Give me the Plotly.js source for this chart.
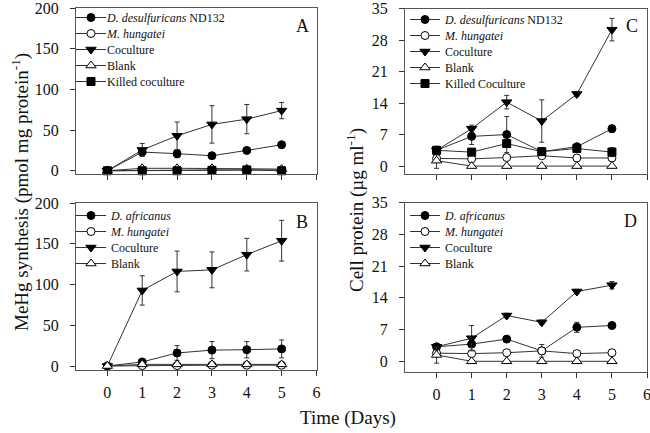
<!DOCTYPE html>
<html>
<head>
<meta charset="utf-8">
<script src="https://cdn.plot.ly/plotly-3.0.1.min.js"></script>
<style>html,body{margin:0;padding:0;background:#fff;}#chart{width:650px;height:433px;}</style>
</head>
<body>
<div id="chart"></div>
<script>
// ---- data ----
const days = [0, 1, 2, 3, 4, 5];
const xTickVals = [0, 1, 2, 3, 4, 5, 6];
const mehgTicks = [0, 50, 100, 150, 200];
const proteinTicks = [0, 7, 14, 21, 28, 35];

// Panel A: MeHg synthesis, D. desulfuricans ND132 set
const A_desulf = [0, 23, 21, 18.5, 25, 32];
const A_desulf_err = [0.5, 3, 5, 1.5, 2, 2];
const A_hung = [0, 0.5, 0.5, 1, 1, 1];
const A_hung_err = [0.3, 0.5, 0.5, 0.5, 0.5, 0.5];
const A_cocult = [0, 25.6, 43, 57, 63.5, 74];
const A_cocult_err = [0.5, 8, 17, 23, 18, 10];
const A_blank = [0, 3, 3, 3, 2.5, 2];
const A_blank_err = [0.3, 0.5, 0.5, 0.5, 0.5, 0.5];
const A_killed = [0, 0, 0, 0.5, 1, 0];
const A_killed_err = [0.3, 0.5, 0.5, 0.5, 0.5, 0.5];

// Panel B: MeHg synthesis, D. africanus set
const B_afr = [0, 5, 16, 19.5, 20, 21];
const B_afr_err = [1, 2, 9, 10.5, 10, 11];
const B_hung = [0, 0.5, 0.5, 1, 1, 1];
const B_hung_err = [0.3, 0.5, 0.5, 0.5, 0.5, 0.5];
const B_cocult = [0, 92.7, 116, 118, 136.6, 153.7];
const B_cocult_err = [1, 18, 25, 22, 20, 25];
const B_blank = [0, 2, 2, 2, 2, 2];
const B_blank_err = [0.3, 0.5, 0.5, 0.5, 0.5, 0.5];

// Panel C: cell protein, D. desulfuricans ND132 set
const C_desulf = [3.5, 6.6, 7.0, 3.2, 4.3, 8.3];
const C_desulf_err = [0.8, 1.8, 4, 0.8, 0.5, 0.8];
const C_hung = [1.7, 1.6, 1.9, 2.3, 1.8, 1.8];
const C_hung_err = [0.5, 0.5, 0.6, 0.5, 0.4, 0.4];
const C_cocult = [3.5, 8.3, 14.2, 10, 16, 30.3];
const C_cocult_err = [0.9, 0.8, 1.5, 4.7, 0.5, 2.5];
const C_blank = [1.2, 0, 0, 0, 0, 0];
const C_blank_err = [1.7, 0, 0, 0, 0, 0];
const C_killed = [3.5, 3.1, 5.0, 3.2, 3.9, 3.1];
const C_killed_err = [0.6, 0.6, 0.6, 0.6, 0.6, 1.0];

// Panel D: cell protein, D. africanus set
const D_afr = [3.2, 3.8, 4.9, 2.3, 7.5, 7.9];
const D_afr_err = [0.5, 0.5, 0.4, 0.5, 1.1, 0.7];
const D_hung = [1.8, 1.7, 1.9, 2.3, 1.7, 1.9];
const D_hung_err = [0.4, 0.4, 0.4, 1.4, 0.4, 0.4];
const D_cocult = [3.2, 5.1, 10.1, 8.6, 15.4, 16.8];
const D_cocult_err = [0.5, 2.8, 0.5, 0.5, 0.5, 0.8];
const D_blank = [1.4, 0, 0, 0, 0, 0];
const D_blank_err = [1.8, 0, 0, 0, 0, 0];

// ---- styles ----
const FONT = 'Liberation Serif, Times New Roman, serif';
const LINE = '#333';
const sty = {
  filledCircle: {symbol: 'circle', size: 8, color: '#000', line: {color: '#000', width: 1}},
  openCircle: {symbol: 'circle', size: 8, color: '#fff', line: {color: '#000', width: 1}},
  filledTri: {symbol: 'triangle-down', size: 9, color: '#000', line: {color: '#000', width: 1}},
  openTri: {symbol: 'triangle-up', size: 9, color: '#fff', line: {color: '#000', width: 1}},
  filledSq: {symbol: 'square', size: 8, color: '#000', line: {color: '#000', width: 1}}
};

function tr(name, y, err, marker, xa, ya, leg) {
  return {
    x: days, y: y, name: name, type: 'scatter', mode: 'lines+markers',
    xaxis: xa, yaxis: ya, legend: leg,
    line: {color: LINE, width: 1},
    marker: marker,
    error_y: {type: 'data', array: err, visible: true, color: '#333', thickness: 1, width: 2.5},
    cliponaxis: false
  };
}

const data = [
  tr('<i>D. desulfuricans</i> ND132', A_desulf, A_desulf_err, sty.filledCircle, 'x', 'y', 'legend'),
  tr('<i>M. hungatei</i>', A_hung, A_hung_err, sty.openCircle, 'x', 'y', 'legend'),
  tr('Coculture', A_cocult, A_cocult_err, sty.filledTri, 'x', 'y', 'legend'),
  tr('Blank', A_blank, A_blank_err, sty.openTri, 'x', 'y', 'legend'),
  tr('Killed coculture', A_killed, A_killed_err, sty.filledSq, 'x', 'y', 'legend'),

  tr('<i>D. africanus</i>', B_afr, B_afr_err, sty.filledCircle, 'x2', 'y2', 'legend2'),
  tr('<i>M. hungatei</i>', B_hung, B_hung_err, sty.openCircle, 'x2', 'y2', 'legend2'),
  tr('Coculture', B_cocult, B_cocult_err, sty.filledTri, 'x2', 'y2', 'legend2'),
  tr('Blank', B_blank, B_blank_err, sty.openTri, 'x2', 'y2', 'legend2'),

  tr('<i>D. desulfuricans</i> ND132', C_desulf, C_desulf_err, sty.filledCircle, 'x3', 'y3', 'legend3'),
  tr('<i>M. hungatei</i>', C_hung, C_hung_err, sty.openCircle, 'x3', 'y3', 'legend3'),
  tr('Coculture', C_cocult, C_cocult_err, sty.filledTri, 'x3', 'y3', 'legend3'),
  tr('Blank', C_blank, C_blank_err, sty.openTri, 'x3', 'y3', 'legend3'),
  tr('Killed Coculture', C_killed, C_killed_err, sty.filledSq, 'x3', 'y3', 'legend3'),

  tr('<i>D. africanus</i>', D_afr, D_afr_err, sty.filledCircle, 'x4', 'y4', 'legend4'),
  tr('<i>M. hungatei</i>', D_hung, D_hung_err, sty.openCircle, 'x4', 'y4', 'legend4'),
  tr('Coculture', D_cocult, D_cocult_err, sty.filledTri, 'x4', 'y4', 'legend4'),
  tr('Blank', D_blank, D_blank_err, sty.openTri, 'x4', 'y4', 'legend4')
];

const W = 650, H = 433;
function px(x) { return x / W; }
function py(y) { return 1 - y / H; }

function xax(domain, anchor, labels) {
  return {
    domain: domain, anchor: anchor, range: [-0.9, 6], tickvals: xTickVals,
    showticklabels: labels, ticks: 'outside', ticklen: 5, tickcolor: '#333', tickwidth: 1,
    showline: true, linecolor: '#555', linewidth: 1, mirror: true,
    showgrid: false, zeroline: false, fixedrange: true, ticklabeloverflow: 'allow',
    tickfont: {family: FONT, size: 16, color: '#111'}, ticklabelstandoff: 3
  };
}
function yax(domain, anchor, range, ticks) {
  return {
    domain: domain, anchor: anchor, range: range, tickvals: ticks,
    ticks: 'outside', ticklen: 5, tickcolor: '#333', tickwidth: 1,
    showline: true, linecolor: '#555', linewidth: 1, mirror: true,
    showgrid: false, zeroline: false, fixedrange: true, ticklabeloverflow: 'allow',
    tickfont: {family: FONT, size: 16, color: '#111'}, ticklabelstandoff: 8
  };
}

const leftX = [px(76), px(316.5)];
const rightX = [px(405), px(647)];
const topY = [py(174), py(8)];
const botY = [py(370), py(203)];
const topYC = [py(174), py(8.5)];
const botYD = [py(371.5), py(202.7)];

function legendAt(x, y) {
  return {
    x: px(x), y: py(y), xanchor: 'left', yanchor: 'top',
    bgcolor: 'rgba(0,0,0,0)', borderwidth: 0,
    font: {family: FONT, size: 12, color: '#111'},
    itemwidth: 30, tracegroupgap: 0
  };
}

function ann(text, x, y, size, angle) {
  return {text: text, x: px(x), y: py(y), xref: 'paper', yref: 'paper', showarrow: false,
    xanchor: 'center', yanchor: 'middle', textangle: angle || 0,
    font: {family: FONT, size: size, color: '#111'}};
}

const layout = {
  width: W, height: H,
  margin: {l: 0, r: 0, t: 0, b: 0},
  paper_bgcolor: '#fff', plot_bgcolor: '#fff',
  showlegend: true,
  font: {family: FONT, color: '#111'},
  xaxis: xax(leftX, 'y', false),
  yaxis: yax(topY, 'x', [-4, 200.2], mehgTicks),
  xaxis2: xax(leftX, 'y2', true),
  yaxis2: yax(botY, 'x2', [-4.9, 200], mehgTicks),
  xaxis3: xax(rightX, 'y3', false),
  yaxis3: yax(topYC, 'x3', [-1.76, 35], proteinTicks),
  xaxis4: xax(rightX, 'y4', true),
  yaxis4: yax(botYD, 'x4', [-2.25, 35], proteinTicks),
  legend: legendAt(71, 3),
  legend2: legendAt(71, 201),
  legend3: legendAt(405, 5),
  legend4: legendAt(405, 201),
  annotations: [
    ann('A', 302, 26, 18),
    ann('B', 302, 222, 18),
    ann('C', 632, 26, 18),
    ann('D', 630, 221, 18),
    ann('MeHg synthesis (pmol mg protein<sup>-1</sup>)', 21, 192, 19, -90),
    ann('Cell protein (µg ml<sup>-1</sup>)', 355, 210, 19, -90),
    ann('Time (Days)', 348, 418, 19)
  ]
};

// tighten legend row spacing to match the original figure (library drawn legend, spacing only)
function tightenLegends() {
  document.querySelectorAll('#chart .infolayer > g[class^="legend"]').forEach(function (lg) {
    const items = lg.querySelectorAll('g.traces');
    let y0 = null, i = 0;
    items.forEach(function (it) {
      const t = it.getAttribute('transform') || '';
      const m = t.match(/translate\(([-\d.]+),\s*([-\d.]+)\)/);
      if (!m) return;
      const x = parseFloat(m[1]), y = parseFloat(m[2]);
      if (y0 === null) y0 = y;
      it.setAttribute('transform', 'translate(' + x + ',' + (y0 + i * 16) + ')');
      const txt = it.querySelector('text.legendtext');
      if (txt) txt.setAttribute('x', 36);
      i++;
    });
  });
}

Plotly.newPlot('chart', data, layout, {displayModeBar: false, staticPlot: true}).then(tightenLegends);
</script>
</body>
</html>
